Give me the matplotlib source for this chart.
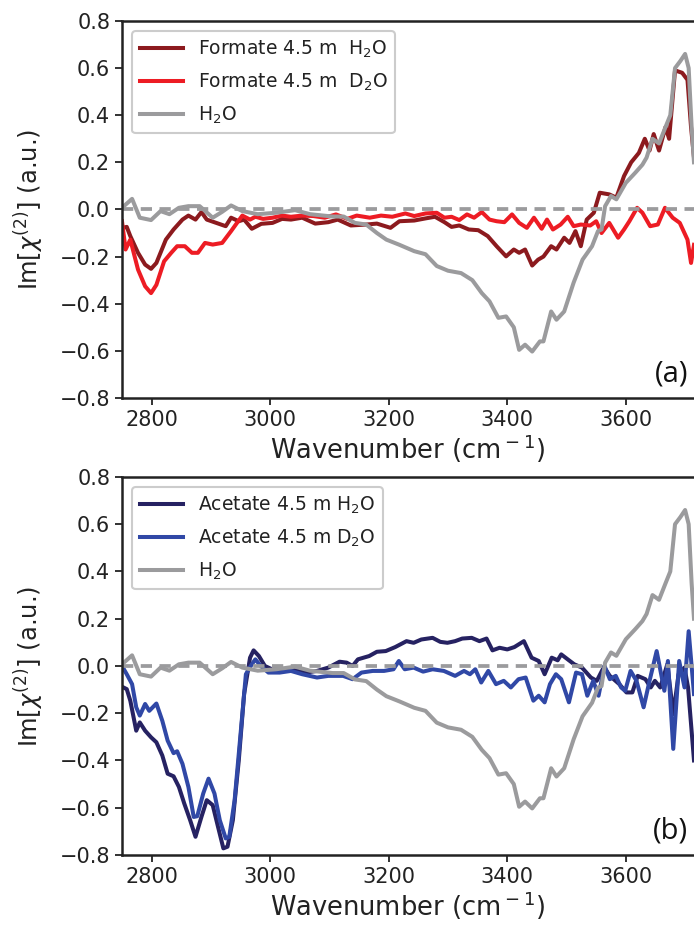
import matplotlib
matplotlib.use("Agg")
import matplotlib.pyplot as plt

# ---------------- data ----------------
water_x = [2750, 2767, 2780, 2799, 2815, 2830, 2846, 2862, 2881, 2903, 2919, 2934, 2953, 2979,
           3010, 3042, 3067, 3105, 3124, 3143, 3162, 3180, 3196, 3218, 3243, 3262, 3281, 3300,
           3322, 3341, 3357, 3370, 3385, 3398, 3411, 3420, 3430, 3442, 3455, 3461, 3474, 3483,
           3496, 3512, 3527, 3543, 3553, 3559, 3565, 3575, 3584, 3600, 3616, 3628, 3635, 3645,
           3656, 3667, 3675, 3683, 3692, 3700, 3706, 3711, 3715]
water_y = [0.007, 0.045, -0.035, -0.045, -0.007, -0.02, 0.007, 0.014, 0.014, -0.035, -0.01, 0.017,
           -0.007, -0.02, -0.014, -0.003, -0.02, -0.03, -0.03, -0.057, -0.064, -0.10, -0.128,
           -0.15, -0.177, -0.19, -0.24, -0.26, -0.27, -0.30, -0.355, -0.39, -0.46, -0.454, -0.50,
           -0.596, -0.574, -0.603, -0.56, -0.56, -0.433, -0.468, -0.433, -0.31, -0.213, -0.156,
           -0.092, -0.085, 0.014, 0.057, 0.043, 0.113, 0.156, 0.19, 0.22, 0.30, 0.28, 0.35, 0.40,
           0.60, 0.63, 0.66, 0.60, 0.35, 0.20]

formate_h2o_x = [2751, 2758, 2764, 2777, 2789, 2799, 2808, 2824, 2837, 2852, 2862, 2874, 2884, 2893,
                 2909, 2925, 2934, 2947, 2956, 2969, 2985, 3004, 3020, 3035, 3054, 3076, 3098, 3114,
                 3136, 3162, 3180, 3203, 3218, 3243, 3262, 3278, 3294, 3306, 3319, 3335, 3351, 3367,
                 3382, 3398, 3411, 3420, 3430, 3442, 3452, 3461, 3474, 3483, 3496, 3505, 3515, 3524,
                 3534, 3546, 3556, 3572, 3584, 3597, 3609, 3622, 3632, 3640, 3647, 3656, 3667, 3673,
                 3683, 3695, 3704, 3710, 3715]
formate_h2o_y = [-0.078, -0.074, -0.113, -0.184, -0.234, -0.252, -0.227, -0.128, -0.085, -0.043,
                 -0.026, -0.043, -0.011, -0.043, -0.057, -0.071, -0.035, -0.05, -0.043, -0.082,
                 -0.061, -0.057, -0.04, -0.043, -0.035, -0.06, -0.054, -0.043, -0.068, -0.064,
                 -0.06, -0.078, -0.05, -0.047, -0.038, -0.031, -0.054, -0.074, -0.068, -0.085,
                 -0.088, -0.113, -0.156, -0.199, -0.17, -0.184, -0.17, -0.238, -0.213, -0.2,
                 -0.156, -0.17, -0.12, -0.142, -0.092, -0.156, -0.043, -0.014, 0.071, 0.064, 0.05,
                 0.142, 0.2, 0.24, 0.30, 0.25, 0.32, 0.25, 0.35, 0.30, 0.59, 0.58, 0.55, 0.35, 0.22]

formate_d2o_x = [2750, 2756, 2764, 2777, 2789, 2799, 2808, 2821, 2833, 2843, 2856, 2868, 2878, 2890,
                 2903, 2919, 2934, 2944, 2953, 2966, 2975, 2988, 3004, 3020, 3035, 3054, 3073, 3092,
                 3111, 3130, 3146, 3168, 3187, 3206, 3228, 3243, 3262, 3281, 3294, 3306, 3319, 3332,
                 3344, 3357, 3370, 3382, 3395, 3408, 3420, 3433, 3445, 3458, 3467, 3477, 3490, 3502,
                 3512, 3524, 3540, 3550, 3559, 3572, 3587, 3597, 3606, 3619, 3628, 3641, 3654, 3666,
                 3679, 3691, 3704, 3710, 3715]
formate_d2o_y = [-0.05, -0.17, -0.128, -0.255, -0.326, -0.355, -0.32, -0.22, -0.184, -0.156, -0.156,
                 -0.184, -0.184, -0.142, -0.149, -0.142, -0.092, -0.057, -0.026, -0.043, -0.031,
                 -0.04, -0.035, -0.026, -0.031, -0.026, -0.028, -0.035, -0.021, -0.04, -0.026,
                 -0.035, -0.026, -0.031, -0.017, -0.028, -0.017, -0.014, -0.035, -0.031, -0.045,
                 -0.021, -0.035, -0.011, -0.043, -0.05, -0.054, -0.021, -0.057, -0.078, -0.035,
                 -0.082, -0.043, -0.085, -0.064, -0.031, -0.071, -0.064, -0.068, -0.05, -0.1,
                 -0.057, -0.12, -0.085, -0.05, 0.007, -0.014, -0.071, -0.064, 0.007, -0.035, -0.057,
                 -0.128, -0.227, -0.15]

acetate_h2o_x = [2750, 2758, 2764, 2774, 2780, 2789, 2799, 2808, 2818, 2827, 2837, 2846, 2855, 2865,
                 2874, 2884, 2893, 2903, 2912, 2921, 2928, 2937, 2947, 2956, 2966, 2972, 2981, 2991,
                 3003, 3022, 3041, 3060, 3079, 3098, 3117, 3129, 3139, 3148, 3167, 3180, 3195, 3211,
                 3230, 3242, 3255, 3274, 3287, 3299, 3312, 3324, 3340, 3353, 3365, 3375, 3387, 3400,
                 3412, 3428, 3441, 3453, 3463, 3475, 3485, 3491, 3504, 3513, 3526, 3541, 3551, 3563,
                 3573, 3589, 3601, 3611, 3620, 3633, 3642, 3649, 3658, 3670, 3680, 3689, 3699, 3705,
                 3715]
acetate_h2o_y = [-0.088, -0.098, -0.147, -0.274, -0.239, -0.274, -0.302, -0.323, -0.379, -0.456,
                 -0.467, -0.512, -0.582, -0.653, -0.723, -0.639, -0.568, -0.589, -0.681, -0.772,
                 -0.765, -0.653, -0.40, -0.119, 0.035, 0.066, 0.042, 0.0, -0.014, -0.014, -0.018,
                 -0.028, -0.021, -0.007, 0.018, 0.014, 0.0, 0.028, 0.042, 0.06, 0.063, 0.08, 0.105,
                 0.098, 0.112, 0.119, 0.102, 0.098, 0.105, 0.116, 0.119, 0.105, 0.116, 0.066, 0.077,
                 0.07, 0.08, 0.105, 0.035, 0.021, -0.035, 0.035, 0.024, 0.049, 0.024, 0.007, -0.007,
                 -0.049, -0.063, -0.004, -0.042, -0.077, -0.112, -0.112, -0.042, -0.056, -0.091,
                 -0.063, -0.091, 0.007, -0.204, -0.035, -0.007, -0.091, -0.40]

acetate_d2o_x = [2750, 2758, 2767, 2774, 2780, 2789, 2796, 2808, 2818, 2827, 2837, 2843, 2852, 2862,
                 2871, 2877, 2887, 2896, 2906, 2915, 2925, 2931, 2940, 2950, 2959, 2969, 2975, 2984,
                 2997, 3016, 3035, 3054, 3079, 3098, 3123, 3139, 3154, 3173, 3192, 3208, 3217, 3227,
                 3242, 3258, 3274, 3293, 3312, 3327, 3337, 3346, 3356, 3368, 3381, 3394, 3406, 3419,
                 3431, 3444, 3453, 3463, 3472, 3482, 3491, 3504, 3516, 3526, 3535, 3545, 3554, 3564,
                 3573, 3583, 3592, 3599, 3608, 3618, 3630, 3640, 3652, 3665, 3671, 3680, 3690, 3699,
                 3706, 3715]
acetate_d2o_y = [0.0, -0.035, -0.077, -0.175, -0.21, -0.161, -0.19, -0.159, -0.232, -0.316, -0.369,
                 -0.361, -0.414, -0.512, -0.639, -0.636, -0.54, -0.477, -0.54, -0.653, -0.73,
                 -0.723, -0.568, -0.288, -0.035, 0.007, 0.028, 0.0, -0.028, -0.028, -0.021, -0.035,
                 -0.049, -0.042, -0.042, -0.056, -0.028, -0.021, -0.021, -0.014, 0.021, -0.014,
                 -0.007, -0.024, -0.014, -0.021, -0.042, -0.021, -0.035, -0.014, -0.07, -0.021,
                 -0.077, -0.063, -0.091, -0.056, -0.049, -0.147, -0.126, -0.154, -0.077, -0.035,
                 -0.056, -0.154, -0.028, -0.035, -0.126, -0.063, -0.126, 0.0, -0.056, -0.042,
                 -0.091, -0.105, -0.021, -0.063, -0.175, -0.063, 0.063, -0.105, 0.021, -0.351,
                 0.021, -0.091, 0.147, -0.119]

xticks = [2800, 3000, 3200, 3400, 3600]
yticks = [-0.8, -0.6, -0.4, -0.2, 0.0, 0.2, 0.4, 0.6, 0.8]

panels = [
    dict(series=[(formate_h2o_x, formate_h2o_y, "#8c1a1e", "Formate 4.5 m  H$_2$O"),
                 (formate_d2o_x, formate_d2o_y, "#ed1c24", "Formate 4.5 m  D$_2$O")],
         tag="(a)"),
    dict(series=[(acetate_h2o_x, acetate_h2o_y, "#262262", "Acetate 4.5 m H$_2$O"),
                 (acetate_d2o_x, acetate_d2o_y, "#3048a6", "Acetate 4.5 m D$_2$O")],
         tag="(b)"),
]

# ---------------- figure ----------------
plt.rcParams['font.family'] = ['DejaVu Sans']
fig = plt.figure(figsize=(6.94, 9.27), dpi=100)
positions = [[0.1758, 0.5707, 0.8242, 0.4067], [0.1758, 0.0777, 0.8242, 0.4078]]
gray = "#9b9b9d"

for pos, panel in zip(positions, panels):
    ax = fig.add_axes(pos)
    for xs, ys, col, lab in panel["series"]:
        ax.plot(xs, ys, color=col, lw=2.9, label=lab)
    ax.plot(water_x, water_y, color=gray, lw=2.9, label="H$_2$O")
    ax.axhline(0, color=gray, lw=2.7, ls=(0, (3.0, 2.0)))
    ax.set_xlim(2750, 3715)
    ax.set_ylim(-0.8, 0.8)
    ax.set_xticks(xticks)
    ax.set_yticks(yticks)
    ax.set_yticklabels([f"{v:.1f}".replace("-", "\u2212") for v in yticks])
    ax.tick_params(labelsize=15, width=1.3, length=5, color="#222222", labelcolor="#222222")
    for s in ["left", "bottom", "top"]:
        ax.spines[s].set_linewidth(1.8)
        ax.spines[s].set_color("#222222")
    ax.spines["right"].set_visible(False)
    ax.set_xlabel("Wavenumber (cm$^-$$^1$)", fontsize=18.5, labelpad=2, color="#222222")
    ax.set_ylabel("Im[$\\chi^{(2)}$] (a.u.)", fontsize=17.5, labelpad=10, color="#222222")
    leg = ax.legend(loc="upper left", fontsize=13.5, frameon=True, fancybox=True,
                    edgecolor="#cccccc", framealpha=1, handlelength=2.3,
                    labelspacing=0.62, borderaxespad=0.55)
    leg.get_frame().set_linewidth(1.5)
    for t in leg.get_texts():
        t.set_color("#222222")
    ax.text(0.99, 0.025, panel["tag"], transform=ax.transAxes, ha="right", va="bottom",
            fontsize=21, family=["Open Sans", "DejaVu Sans"], color="#111111")

fig.savefig("out.png", dpi=100)
